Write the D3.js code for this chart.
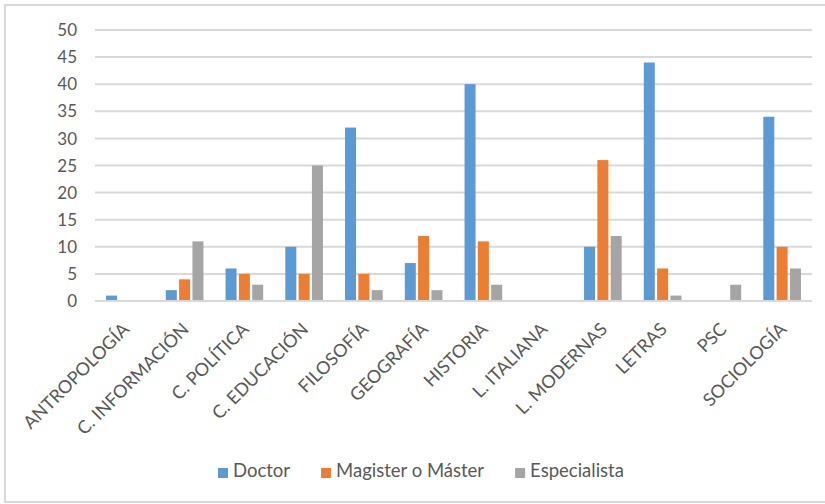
<!DOCTYPE html>
<html>
<head>
<meta charset="utf-8">
<script src="https://cdn.jsdelivr.net/npm/d3@7"></script>
<style>
  html, body { margin: 0; padding: 0; background: #fff; }
  svg { display: block; }
  text { font-family: Lato, "Open Sans", sans-serif; fill: #595959; }
</style>
</head>
<body>
<svg id="chart" width="825" height="504"></svg>
<script>
const categories = ["ANTROPOLOGÍA", "C. INFORMACIÓN", "C. POLÍTICA", "C. EDUCACIÓN", "FILOSOFÍA", "GEOGRAFÍA", "HISTORIA", "L. ITALIANA", "L. MODERNAS", "LETRAS", "PSC", "SOCIOLOGÍA"];
const seriesNames = ["Doctor", "Magister o Máster", "Especialista"];
const doctor = [1, 2, 6, 10, 32, 7, 40, 0, 10, 44, 0, 34];
const magister = [0, 4, 5, 5, 5, 12, 11, 0, 26, 6, 0, 10];
const especialista = [0, 11, 3, 25, 2, 2, 3, 0, 12, 1, 3, 6];
const yTicks = [0, 5, 10, 15, 20, 25, 30, 35, 40, 45, 50];
const colors = ["#5B9BD5", "#ED7D31", "#A5A5A5"];

const seriesValues = [doctor, magister, especialista];
const svg = d3.select("#chart");

// outer frame
svg.append("rect").attr("x", 5).attr("y", 5).attr("width", 830).attr("height", 497)
  .attr("fill", "#fff").attr("stroke", "#d9d9d9").attr("stroke-width", 2);

const mLeft = 95, mRight = 812, mTop = 30, mBottom = 301;
const x = d3.scaleBand().domain(categories).range([mLeft, mRight]).paddingInner(0).paddingOuter(0);
const y = d3.scaleLinear().domain([0, 50]).range([mBottom, mTop]);
const xs = d3.scaleBand().domain(d3.range(3)).range([0, x.bandwidth()]).paddingInner(0.173).paddingOuter(0.83);

// gridlines
svg.append("g").selectAll("line").data(yTicks.filter(d => d > 0)).join("line")
  .attr("x1", mLeft).attr("x2", mRight)
  .attr("y1", d => y(d)).attr("y2", d => y(d))
  .attr("stroke", "#d9d9d9").attr("stroke-width", 2);

// y tick labels
svg.append("g").selectAll("text").data(yTicks).join("text")
  .attr("x", 77).attr("y", d => y(d)).attr("dy", "0.36em")
  .attr("text-anchor", "end").style("font-size", "17px").text(d => d);

// bars
const groups = svg.append("g").selectAll("g").data(categories).join("g")
  .attr("transform", d => `translate(${x(d)},0)`);
groups.selectAll("rect").data((c, i) => seriesValues.map((s, k) => ({k, v: s[i]})).filter(d => d.v > 0)).join("rect")
  .attr("x", d => xs(d.k)).attr("width", xs.bandwidth())
  .attr("y", d => y(d.v)).attr("height", d => y(0) - y(d.v))
  .attr("fill", d => colors[d.k]);

// x axis line
svg.append("line").attr("x1", mLeft).attr("x2", mRight).attr("y1", mBottom).attr("y2", mBottom)
  .attr("stroke", "#d9d9d9").attr("stroke-width", 2);

// x labels
svg.append("g").selectAll("text").data(categories).join("text")
  .attr("transform", d => `translate(${x(d) + x.bandwidth() / 2 + 1},${mBottom + 25}) rotate(-45)`)
  .attr("text-anchor", "end").attr("dy", "0.35em")
  .style("font-size", "18px").text(d => d);

// legend
const legend = svg.append("g");
let lx = 218;
seriesNames.forEach((name, k) => {
  legend.append("rect").attr("x", lx).attr("y", 468).attr("width", 10).attr("height", 10).attr("fill", colors[k]);
  const t = legend.append("text").attr("x", lx + 15).attr("y", 477).style("font-size", "18.5px").text(name);
  const w = t.node().getComputedTextLength();
  lx += 15 + w + 31;
});
</script>
</body>
</html>
